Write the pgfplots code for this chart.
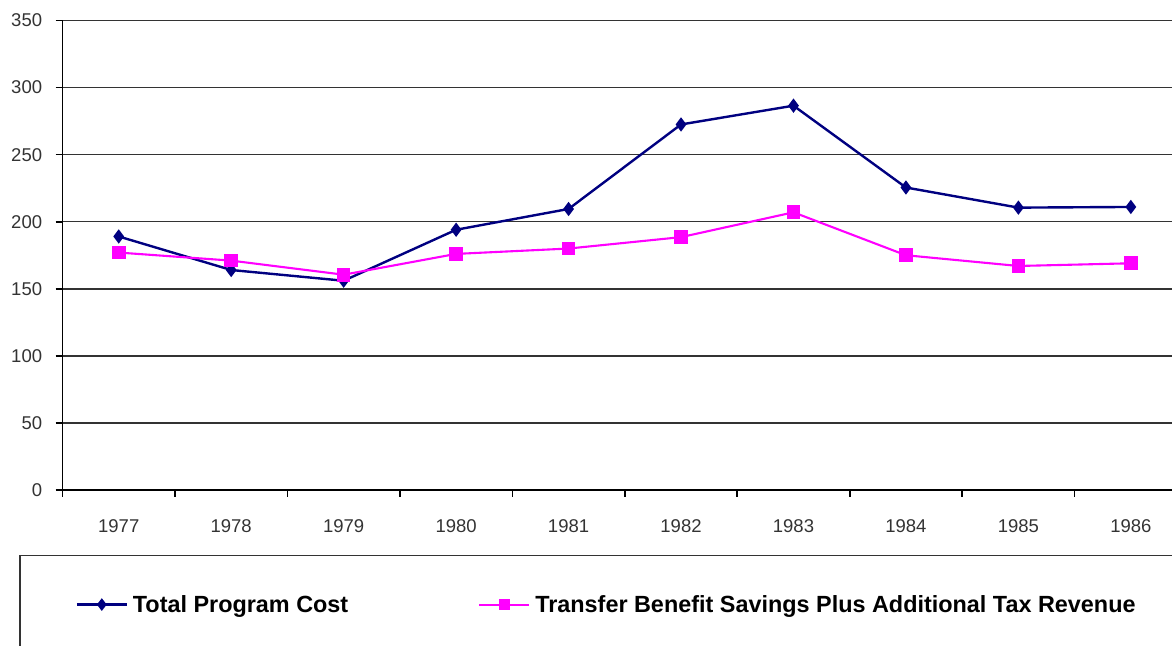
\documentclass[border=0pt]{standalone}
\usepackage{pgfplots}
\pgfplotsset{compat=1.18}
\usepackage{fontspec}
\setmainfont{Liberation Sans}
\definecolor{navyline}{HTML}{000080}
\definecolor{pinkline}{HTML}{FF00FF}
\begin{document}
\begin{tikzpicture}
\useasboundingbox (0,0) rectangle (586pt,323pt);
\clip (0,0) rectangle (586pt,323pt);
\begin{axis}[
  at={(31.25pt,78pt)}, anchor=south west,
  scale only axis,
  width=554.75pt, height=234.75pt,
  xmin=-0.5, xmax=9.366,
  ymin=0, ymax=350,
  axis lines=left,
  axis line style={-, black, line width=0.8pt},
  ytick={0,50,...,350},
  xtick={0,...,9},
  xticklabels={1977,1978,1979,1980,1981,1982,1983,1984,1985,1986},
  minor xtick={-0.5,0.5,...,8.5},
  major x tick style={draw=none},
  minor x tick style={black, line width=0.8pt},
  y tick style={black, line width=0.8pt},
  tick align=outside,
  major tick length=3.5pt,
  minor tick length=3.5pt,
  ymajorgrids,
  grid style={black!80, line width=0.75pt},
  /pgf/number format/assume math mode=true,
  tick label style={font=\fontsize{9.25}{11}\selectfont, text=black!80},
  yticklabel style={anchor=east, inner sep=0pt, xshift=-6.5pt},
  xticklabel style={anchor=north, inner sep=0pt, yshift=-11pt},
  legend columns=2,
  legend style={
    at={(-0.0388,-0.1383)}, anchor=north west,
    draw=black!80, line width=0.75pt,
    inner xsep=27.75pt, inner ysep=20.25pt,
    font=\fontsize{11.7}{14}\selectfont\bfseries,
    nodes={inner sep=0pt, text height=8.4pt, text depth=0pt},
    /tikz/every odd column/.append style={column sep=2.5pt},
    /tikz/every even column/.append style={column sep=65pt},
  },
  legend cell align=left,
]
\addplot[navyline, line width=1.2pt, mark=diamond*, mark size=2.6pt,
  legend image code/.code={\draw[navyline, line width=1.1pt] (0pt,0pt) -- (25pt,0pt);
    \fill[navyline] (12.5pt,2.2pt) -- (14.2pt,0pt) -- (12.5pt,-2.2pt) -- (10.8pt,0pt) -- cycle;}]
  coordinates {(0,189) (1,164) (2,156) (3,194) (4,209.5) (5,272.5) (6,286.5) (7,225.5) (8,210.5) (9,211)};
\addlegendentry{Total Program Cost}
\addplot[pinkline, line width=1.05pt, mark=square*, mark size=2.9pt,
  legend image code/.code={\draw[pinkline, line width=1pt] (0pt,0pt) -- (25pt,0pt);
    \fill[pinkline] (10.3pt,-2.2pt) rectangle (14.7pt,2.2pt);}]
  coordinates {(0,177) (1,171) (2,160.5) (3,176) (4,180) (5,188.5) (6,207) (7,175) (8,167) (9,169)};
\addlegendentry{Transfer Benefit Savings Plus Additional Tax Revenue}
\end{axis}
\end{tikzpicture}
\end{document}
